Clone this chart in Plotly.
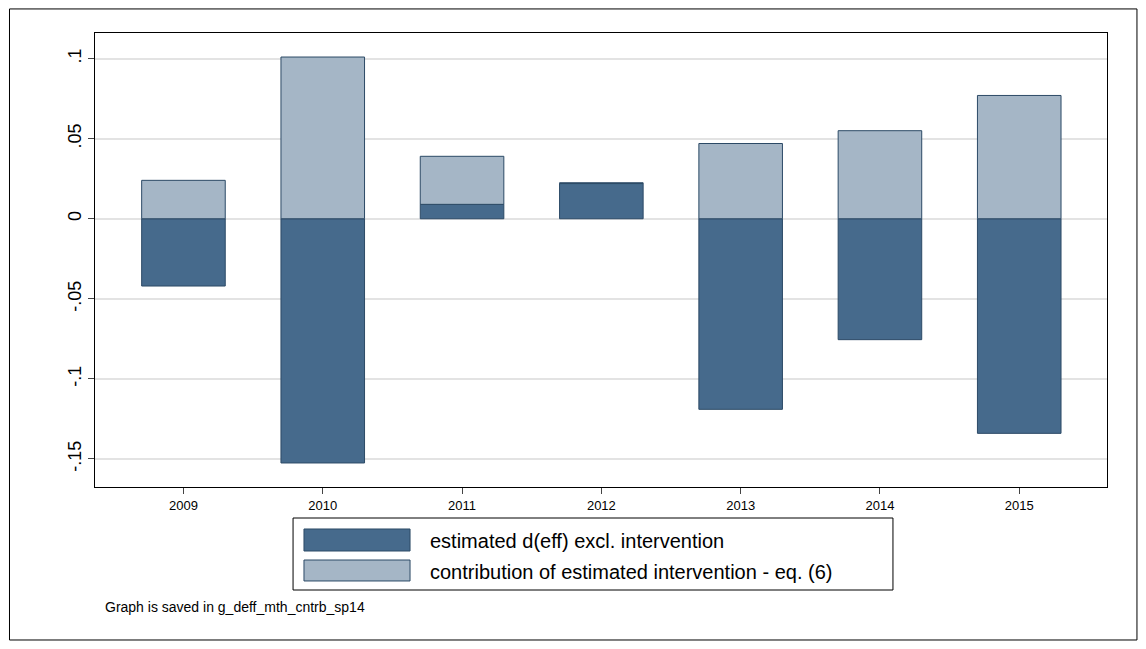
import plotly.graph_objects as go

years = ['2009', '2010', '2011', '2012', '2013', '2014', '2015']
est_deff = [-0.042, -0.1525, 0.009, 0.022, -0.119, -0.0755, -0.134]
contrib = [0.024, 0.101, 0.030, 0.0005, 0.047, 0.055, 0.077]
names = ['estimated d(eff) excl. intervention',
         'contribution of estimated intervention - eq. (6)']

dark = '#466a8c'
light = '#a5b6c6'
edge = '#2c4a66'

fig = go.Figure()
fig.add_trace(go.Bar(x=years, y=est_deff, name=names[0],
                     marker=dict(color=dark, line=dict(color=edge, width=1)), width=0.6))
fig.add_trace(go.Bar(x=years, y=contrib, name=names[1],
                     marker=dict(color=light, line=dict(color=edge, width=1)), width=0.6))

# hand-made legend (wide swatches like Stata)
shapes = [
    dict(type='rect', xref='paper', yref='paper', x0=-0.0845, x1=1.0296, y0=-0.337, y1=1.053,
         line=dict(color='black', width=1)),
    dict(type='rect', xref='paper', yref='paper', x0=0.1957, x1=0.7885, y0=-0.2269, y1=-0.0683,
         line=dict(color='black', width=1)),
    dict(type='rect', xref='paper', yref='paper', x0=0.2065, x1=0.3113, y0=-0.141, y1=-0.0925,
         fillcolor=dark, line=dict(color=edge, width=1)),
    dict(type='rect', xref='paper', yref='paper', x0=0.2065, x1=0.3113, y0=-0.207, y1=-0.1608,
         fillcolor=light, line=dict(color=edge, width=1)),
]
annotations = [
    dict(text=names[0], x=0.329, y=-0.119, font=dict(size=20)),
    dict(text=names[1], x=0.329, y=-0.187, font=dict(size=20)),
    dict(text='Graph is saved in g_deff_mth_cntrb_sp14', x=0.0079, y=-0.264, font=dict(size=14)),
]
for a in annotations:
    a.update(xref='paper', yref='paper', xanchor='left', yanchor='middle', showarrow=False)

fig.update_layout(
    barmode='relative',
    width=1130, height=633,
    margin=dict(l=87, r=31, t=25, b=154),
    paper_bgcolor='white', plot_bgcolor='white',
    font=dict(family='Liberation Sans, Arial', color='black'),
    showlegend=False,
    xaxis=dict(range=[-0.635, 6.63], showline=True, mirror=True, linecolor='black', linewidth=1,
               ticks='outside', ticklen=6, tickfont=dict(size=13), showgrid=False),
    yaxis=dict(range=[-0.1675, 0.116], showline=True, mirror=True, linecolor='black',
               linewidth=1, ticks='outside', ticklen=6,
               tickvals=[-0.15, -0.1, -0.05, 0, 0.05, 0.1],
               ticktext=['-.15', '-.1', '-.05', '0', '.05', '.1'],
               tickangle=-90, tickfont=dict(size=18),
               showgrid=True, gridcolor='#e3e3e3', gridwidth=2, zeroline=False),
    shapes=shapes,
    annotations=annotations,
)

fig.write_html('out.html')
